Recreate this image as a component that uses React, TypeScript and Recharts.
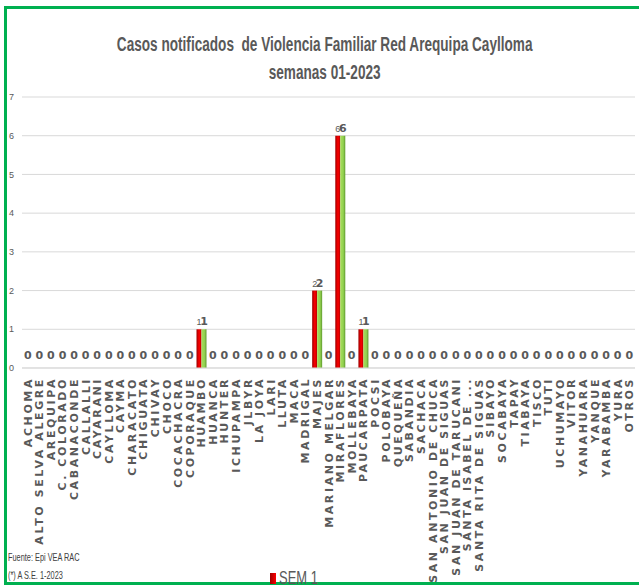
import { BarChart, Bar, XAxis, YAxis, CartesianGrid, LabelList, ReferenceDot } from 'recharts'

const distritos = [
  'ACHOMA', 'ALTO SELVA ALEGRE', 'AREQUIPA', 'C. COLORADO', 'CABANACONDE', 'CALLALLI',
  'CAYARANI', 'CAYLLOMA', 'CAYMA', 'CHARACATO', 'CHIGUATA', 'CHIVAY', 'CHOCO',
  'COCACHACRA', 'COPORAQUE', 'HUAMBO', 'HUANCA', 'HUNTER', 'ICHUPAMPA', 'JLBYR',
  'LA JOYA', 'LARI', 'LLUTA', 'MACA', 'MADRIGAL', 'MAJES', 'MARIANO MELGAR',
  'MIRAFLORES', 'MOLLEBAYA', 'PAUCARPATA', 'POCSI', 'POLOBAYA', 'QUEQUEÑA', 'SABANDIA',
  'SACHACA', 'SAN ANTONIO DE CHUCA', 'SAN JUAN DE SIGUAS', 'SAN JUAN DE TARUCANI',
  'SANTA ISABEL DE ...', 'SANTA RITA DE SIGUAS', 'SIBAYO', 'SOCABAYA', 'TAPAY',
  'TIABAYA', 'TISCO', 'TUTI', 'UCHUMAYO', 'VITOR', 'YANAHUARA', 'YANQUE',
  'YARABAMBA', 'YURA', 'OTROS',
]

// SEM 1 (rojo) y total acumulado (verde)
const sem1 = [
  0, 0, 0, 0, 0, 0, 0, 0, 0, 0, 0, 0, 0, 0, 0, 1, 0, 0, 0, 0, 0, 0, 0, 0, 0, 2, 0,
  6, 0, 1, 0, 0, 0, 0, 0, 0, 0, 0, 0, 0, 0, 0, 0, 0, 0, 0, 0, 0, 0, 0, 0, 0, 0,
]
const total = [
  0, 0, 0, 0, 0, 0, 0, 0, 0, 0, 0, 0, 0, 0, 0, 1, 0, 0, 0, 0, 0, 0, 0, 0, 0, 2, 0,
  6, 0, 1, 0, 0, 0, 0, 0, 0, 0, 0, 0, 0, 0, 0, 0, 0, 0, 0, 0, 0, 0, 0, 0, 0, 0,
]
const yTicks = [0, 1, 2, 3, 4, 5, 6, 7]

const data = distritos.map((d, i) => ({ name: d, sem1: sem1[i], total: total[i] }))

const GRAY = '#595959'
const SANS = '"Liberation Sans", Arial, sans-serif'
const BOLD_FONT = '"DejaVu Sans", sans-serif'

const XTick = (props: any) => {
  const { x, y, payload } = props
  return (
    <text
      x={0} y={0}
      transform={`translate(${x + 4},${y + 1}) rotate(-90)`}
      textAnchor="end"
      fontSize={11}
      fontWeight="bold"
      letterSpacing={2.6}
      fontFamily={BOLD_FONT}
      fill={GRAY}
    >
      {payload.value}
    </text>
  )
}

const redLabel = (p: any) => {
  if (!p.value) return null
  return (
    <text x={p.x + p.width / 2} y={p.y - 4} textAnchor="middle" fontSize={9}
          fontFamily={SANS} fill={GRAY}>{p.value}</text>
  )
}

const greenLabel = (p: any) => {
  if (!p.value) return null
  return (
    <text x={p.x + p.width / 2} y={p.y - 4} textAnchor="middle" fontSize={11} fontWeight="bold"
          fontFamily={BOLD_FONT} fill={GRAY}>{p.value}</text>
  )
}

export default function App() {
  return (
    <div style={{ position: 'absolute', left: 0, top: 0, width: 639, height: 588, background: '#fff', overflow: 'hidden' }}>
      <div style={{
        position: 'absolute', left: 4, top: 6, width: 660, height: 579,
        border: '3px solid #00b050', borderRight: 'none', boxSizing: 'border-box',
      }} />
      <div style={{
        position: 'absolute', left: 0, top: 30, width: 650, textAlign: 'center',
        fontFamily: SANS, fontSize: 20, lineHeight: '28px', color: GRAY, fontWeight: 'bold',
        transform: 'scaleX(0.68)', transformOrigin: '324px 0', whiteSpace: 'nowrap',
      }}>
        Casos notificados&nbsp; de Violencia Familiar Red Arequipa Caylloma<br />semanas 01-2023
      </div>
      <BarChart
        width={639} height={588} data={data}
        margin={{ top: 97, right: 4, left: 0, bottom: 0 }}
        barGap={0} barCategoryGap={1}
        style={{ position: 'absolute', left: 0, top: 0 }}
      >
        <defs>
          <linearGradient id="gRed" x1="0" y1="0" x2="1" y2="0">
            <stop offset="0%" stopColor="#9c0000" />
            <stop offset="55%" stopColor="#ff0000" />
            <stop offset="100%" stopColor="#b00000" />
          </linearGradient>
          <linearGradient id="gGreen" x1="0" y1="0" x2="1" y2="0">
            <stop offset="0%" stopColor="#a6e05a" />
            <stop offset="60%" stopColor="#92d050" />
            <stop offset="100%" stopColor="#5e9a2c" />
          </linearGradient>
        </defs>
        <CartesianGrid vertical={false} stroke="#d9d9d9" />
        <XAxis dataKey="name" interval={0} height={220} tick={<XTick />}
               axisLine={{ stroke: '#d9d9d9' }} tickLine={false} />
        <YAxis domain={[0, 7]} ticks={yTicks} width={22} axisLine={false} tickLine={false}
               tick={{ fontSize: 9, fill: GRAY, fontFamily: SANS }} />
        <Bar dataKey="sem1" name="SEM 1" fill="url(#gRed)" barSize={5} isAnimationActive={false}>
          <LabelList dataKey="sem1" content={redLabel} />
        </Bar>
        <Bar dataKey="total" fill="url(#gGreen)" barSize={5} isAnimationActive={false}>
          <LabelList dataKey="total" content={greenLabel} />
        </Bar>
        {data.filter(d => d.total === 0).map(d => (
          <ReferenceDot key={d.name} x={d.name} y={d.total} r={1} fill="none" stroke="none"
            label={{ value: '0', position: 'top', offset: 8, fontSize: 11, fontWeight: 'bold',
                     fontFamily: BOLD_FONT, fill: GRAY }} />
        ))}
      </BarChart>
      <div style={{
        position: 'absolute', left: 8, top: 548, fontFamily: SANS, fontSize: 11.5, color: '#404040',
        lineHeight: '18px', transform: 'scaleX(0.64)', transformOrigin: '0 0', whiteSpace: 'nowrap',
      }}>
        Fuente: Epi VEA RAC<br />(*) A S.E. 1-2023
      </div>
      <div style={{ position: 'absolute', left: 270, top: 570, display: 'flex', alignItems: 'center', fontFamily: SANS, fontSize: 18, color: GRAY, lineHeight: '16px' }}>
        <span style={{ display: 'inline-block', width: 6, height: 11, background: 'linear-gradient(90deg,#9c0000,#ff0000)', marginRight: 3 }} />
        <span style={{ display: 'inline-block', transform: 'scaleX(0.72)', transformOrigin: '0 0' }}>SEM 1</span>
      </div>
    </div>
  )
}
